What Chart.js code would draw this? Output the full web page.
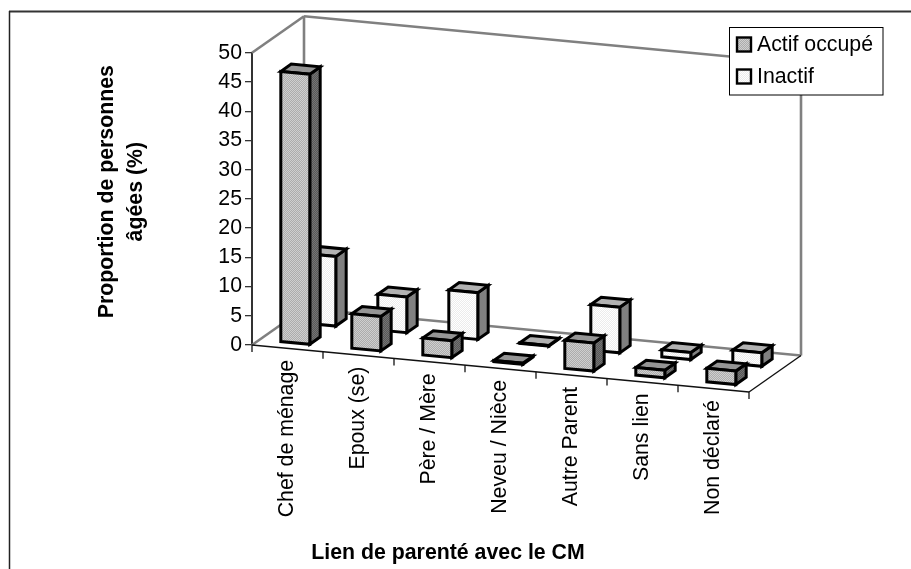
<!DOCTYPE html>
<html lang="fr">
<head>
<meta charset="utf-8">
<title>Proportion de personnes âgées</title>
<script src="https://cdn.jsdelivr.net/npm/chart.js@4"></script>
<style>html,body{margin:0;padding:0;background:#fff}canvas{display:block}</style>
</head>
<body>
<canvas id="c" width="911" height="569"></canvas>
<script>
const categories = ["Chef de ménage","Epoux (se)","Père / Mère","Neveu / Nièce","Autre Parent","Sans lien","Non déclaré"];
const actifOccupe = [46.2, 5.9, 2.9, 0.2, 4.8, 1.3, 2.3];
const inactif = [11.9, 6.1, 8, 0.1, 7.8, 1.2, 2.3];
const seriesNames = ["Actif occupé","Inactif"];
const yAxisTitle = ["Proportion de personnes","âgées (%)"];
const xAxisTitle = "Lien de parenté avec le CM";

const FONT = '"Liberation Sans", Arial, sans-serif';
const SIZE = 21.3;
const DEPTH = {dx:52, dy:-36.5};          // full floor depth vector
const SLOPE = 47/497;                     // tilt of the category axis
const ROW = 0.5, BAR_START = 0.15, BAR_DEPTH = 0.2;

function hatch(a,b,size){
  const cv=document.createElement('canvas');cv.width=cv.height=size;
  const g=cv.getContext('2d');
  for(let y=0;y<size;y++)for(let x=0;x<size;x++){
    g.fillStyle=((x+y)%2===0)?a:b;g.fillRect(x,y,1,1);
  }
  return g.createPattern(cv,'repeat');
}
const faces = [
  {front:hatch('#cfcfcf','#acacac',2), side:hatch('#747474','#585858',2), top:'#959595'},
  {front:hatch('#ffffff','#ececec',2), side:'#808080', top:'#b2b2b2'}
];

function toScreen(chart,px,py,d){
  return [px + DEPTH.dx*d, py + SLOPE*(px-chart.chartArea.left) + DEPTH.dy*d];
}
function poly(ctx,pts,fill){
  ctx.beginPath();
  pts.forEach((p,i)=>i?ctx.lineTo(p[0],p[1]):ctx.moveTo(p[0],p[1]));
  ctx.closePath();
  ctx.fillStyle=fill;ctx.fill();ctx.stroke();
}
function line(ctx,a,b,color,w){
  ctx.strokeStyle=color;ctx.lineWidth=w;ctx.beginPath();
  ctx.moveTo(a[0],a[1]);ctx.lineTo(b[0],b[1]);ctx.stroke();
}

const scene3d = {
  id:'scene3d',
  beforeDraw(chart){
    const {ctx}=chart;
    ctx.save();
    ctx.fillStyle='#fff';ctx.fillRect(0,0,chart.width,chart.height);
    line(ctx,[9,11.5],[911,11.5],'#333',2);
    line(ctx,[9.5,11],[9.5,569],'#222',1.5);
    ctx.restore();
  },
  beforeDatasetsDraw(chart){
    const {ctx,chartArea:a,scales:{y}}=chart;
    const t=y.getPixelForValue(y.max), b=y.getPixelForValue(y.min);
    const P=(px,py,d)=>toScreen(chart,px,py,d);
    ctx.save();
    const G='#808080', W=2.6;
    line(ctx,P(a.left,t,0),P(a.left,t,1),G,W);
    line(ctx,P(a.left,b,0),P(a.left,b,1),G,W);
    line(ctx,P(a.left,t,1),P(a.left,b,1),G,W);
    line(ctx,P(a.left,t,1),P(a.right,t,1),G,W);
    line(ctx,P(a.right,t,1),P(a.right,b,1),G,W);
    line(ctx,P(a.left,b,1),P(a.right,b,1),G,W);
    line(ctx,P(a.right,b,0),P(a.right,b,1),'#111',1.4);
    // category axis, skewed with the floor
    const x=chart.scales.x, step=(a.right-a.left)/categories.length;
    line(ctx,P(a.left,b,0),P(a.right,b,0),'#111',1.6);
    for(let i=0;i<=categories.length;i++){
      const px=a.left+i*step, s=P(px,b,0);
      line(ctx,s,[s[0],s[1]+7],'#111',1.3);
    }
    ctx.fillStyle='#000';ctx.font=SIZE+'px '+FONT;ctx.textAlign='right';ctx.textBaseline='middle';
    categories.forEach((c,i)=>{
      const px=x.getPixelForValue(i), s=P(px,b,0);
      ctx.save();ctx.translate(s[0],s[1]+11.5);ctx.rotate(-Math.PI/2);
      ctx.fillText(c,0,0);ctx.restore();
    });
    ctx.restore();
  },
  beforeDatasetDraw(chart,args){
    const {ctx}=chart, r=args.index, f=faces[r], meta=args.meta;
    const d0=r*ROW+BAR_START, d1=d0+BAR_DEPTH;
    const y=chart.scales.y, base=y.getPixelForValue(0);
    ctx.save();
    ctx.strokeStyle='#000';ctx.lineWidth=3;ctx.lineJoin='miter';
    meta.data.forEach(el=>{
      const l=el.x-el.width/2, h=el.x+el.width/2, top=el.y;
      const A=toScreen(chart,l,top,d0),B=toScreen(chart,h,top,d0),
            C=toScreen(chart,h,base,d0),D=toScreen(chart,l,base,d0),
            E=toScreen(chart,l,top,d1),F=toScreen(chart,h,top,d1),
            H=toScreen(chart,h,base,d1);
      poly(ctx,[B,F,H,C],f.side);
      poly(ctx,[A,E,F,B],f.top);
      poly(ctx,[A,B,C,D],f.front);
    });
    ctx.restore();
    return false;
  },
  afterDraw(chart){
    const {ctx}=chart;
    ctx.save();
    // axis titles
    ctx.fillStyle='#000';ctx.font='bold '+SIZE+'px '+FONT;ctx.textAlign='center';ctx.textBaseline='middle';
    ctx.fillText(xAxisTitle,448,553);
    yAxisTitle.forEach((t,i)=>{
      ctx.save();ctx.translate(107+i*29,191.7);ctx.rotate(-Math.PI/2);ctx.fillText(t,0,0);ctx.restore();
    });
    // legend
    ctx.fillStyle='#fff';ctx.fillRect(729.5,27.5,153.5,67.5);
    ctx.strokeStyle='#000';ctx.lineWidth=1;ctx.strokeRect(729.5,27.5,153.5,67.5);
    ctx.textAlign='left';ctx.font=SIZE+'px '+FONT;
    chart.data.datasets.forEach((ds,i)=>{
      const yc=i?76.5:44.5;
      ctx.lineWidth=2.4;ctx.strokeStyle='#000';ctx.fillStyle=faces[i].front;
      ctx.fillRect(737,yc-7,14,14);ctx.strokeRect(737,yc-7,14,14);
      ctx.fillStyle='#000';ctx.fillText(ds.label,757,yc+1);
    });
    ctx.restore();
  }
};

new Chart(document.getElementById('c'),{
  type:'bar',
  data:{labels:categories,datasets:[
    {label:seriesNames[0],data:actifOccupe,backgroundColor:faces[0].front,borderColor:'#000'},
    {label:seriesNames[1],data:inactif,backgroundColor:faces[1].front,borderColor:'#000'}
  ]},
  options:{
    responsive:false,animation:false,devicePixelRatio:1,
    layout:{padding:{left:0,top:52.7,right:162,bottom:224}},
    datasets:{bar:{grouped:false,categoryPercentage:1,barPercentage:0.408}},
    plugins:{legend:{display:false},title:{display:false},tooltip:{enabled:false}},
    scales:{
      x:{type:'category',display:false},
      y:{
        min:0,max:50,
        afterFit(s){s.width=252;},
        border:{display:true,color:'#333',width:2},
        grid:{display:true,drawOnChartArea:false,drawTicks:true,tickLength:7,color:'#333',lineWidth:1.3},
        ticks:{stepSize:5,padding:3,color:'#000',font:{family:FONT,size:SIZE}}
      }
    }
  },
  plugins:[scene3d]
});
</script>
</body>
</html>
